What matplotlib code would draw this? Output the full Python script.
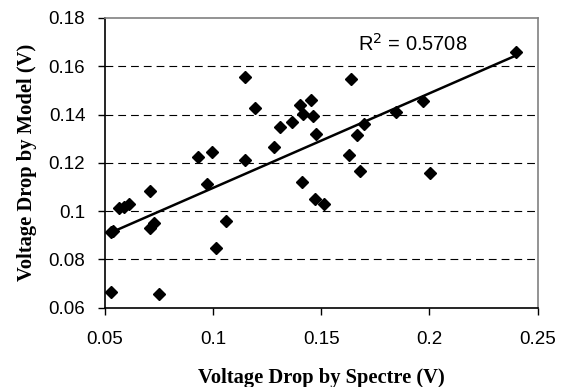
import numpy as np
import matplotlib
matplotlib.use("Agg")
import matplotlib.pyplot as plt

spectre = [0.1148, 0.1196, 0.0930, 0.0996, 0.0971, 0.0711, 0.1148, 0.1280, 0.1310, 0.1367,
           0.1403, 0.1416, 0.1451, 0.1464, 0.1478, 0.1410, 0.1471, 0.1513, 0.1638, 0.1699,
           0.1664, 0.1627, 0.1681, 0.1847, 0.1972, 0.2003, 0.2398, 0.0529, 0.0540, 0.0567,
           0.0591, 0.0614, 0.0709, 0.0728, 0.1060, 0.1013, 0.0529, 0.0749]
model = [0.1557, 0.1426, 0.1224, 0.1245, 0.1112, 0.1082, 0.1212, 0.1264, 0.1348, 0.1369,
         0.1440, 0.1404, 0.1462, 0.1393, 0.1321, 0.1122, 0.1049, 0.1028, 0.1546, 0.1360,
         0.1314, 0.1231, 0.1166, 0.1409, 0.1457, 0.1157, 0.1659, 0.0915, 0.0919, 0.1012,
         0.1018, 0.1030, 0.0931, 0.0952, 0.0958, 0.0846, 0.0665, 0.0658]
# Excel linear trendline
trend_slope = 0.392
trend_intercept = 0.0704
r2_label = "R$^2$ = 0.5708"
x_ticks = [0.05, 0.1, 0.15, 0.2, 0.25]
x_tick_labels = ["0.05", "0.1", "0.15", "0.2", "0.25"]
y_ticks = [0.06, 0.08, 0.1, 0.12, 0.14, 0.16, 0.18]
y_tick_labels = ["0.06", "0.08", "0.1", "0.12", "0.14", "0.16", "0.18"]

W, H = 568, 387
fig = plt.figure(figsize=(W / 100, H / 100), dpi=100)
ax = fig.add_axes([104.7 / W, 1 - 307.7 / H, (537.7 - 104.7) / W, (307.7 - 18) / H])

ax.set_xlim(0.05, 0.25)
ax.set_ylim(0.06, 0.18)

for yv in y_ticks[1:-1]:
    ax.axhline(yv, color="black", lw=0.8, dashes=(7, 4.5), zorder=1)

xs = np.array(spectre)
ys = np.array(model)
xl = np.array([xs.min(), xs.max()])
ax.plot(xl, trend_slope * xl + trend_intercept, color="black", lw=1.8, zorder=2)

ax.plot(xs, ys, linestyle="none", marker="D", ms=5.8, color="black", zorder=3)

ax.set_xticks(x_ticks)
ax.set_xticklabels(x_tick_labels, fontfamily="Liberation Sans", fontsize=13.5)
ax.set_yticks(y_ticks)
ax.set_yticklabels(y_tick_labels, fontfamily="Liberation Sans", fontsize=13.5)
ax.tick_params(direction="out", length=5, width=1, color="black")
ax.tick_params(axis="x", pad=12)
ax.tick_params(axis="y", pad=9)

ax.set_xlabel("Voltage Drop by Spectre (V)", fontfamily="Liberation Serif",
              fontweight="bold", fontsize=14.8, labelpad=14)
ax.set_ylabel("Voltage Drop by Model (V)", fontfamily="Liberation Serif",
              fontweight="bold", fontsize=14.8, labelpad=8)

for s in ["left", "bottom"]:
    ax.spines[s].set_color("black")
    ax.spines[s].set_linewidth(1.2)
for s in ["top", "right"]:
    ax.spines[s].set_color("#808080")
    ax.spines[s].set_linewidth(1.2)

ax.text(0.1924, 0.1694, r2_label, fontfamily="Liberation Sans", fontsize=14.5,
        ha="center", va="center")

fig.savefig("out.png", dpi=100)
